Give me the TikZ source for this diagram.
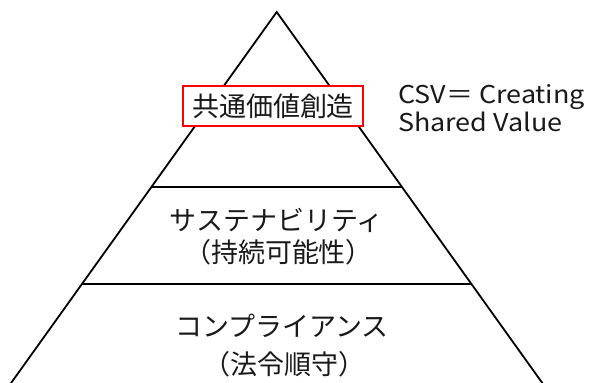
\documentclass[tikz,border=0pt]{standalone}
\usepackage{fontspec}
\newfontfamily\jp{Noto Sans CJK JP}
\newfontfamily\csvfont[FakeStretch=1.1]{Noto Sans CJK JP}
\usetikzlibrary{calc}
\begin{document}
\begin{tikzpicture}[x=1pt,y=1pt,
  edge/.style={line width=1.8pt,black},
  tier/.style={font=\jp\fontsize{27}{27}\selectfont, inner sep=0pt, anchor=center, text=black!90},
  redbox/.style={draw=red, line width=2pt, fill=white, font=\jp\fontsize{27}{27}\selectfont,
    inner sep=0pt, minimum width=180pt, minimum height=40pt, text=black!90},
  csvtext/.style={font=\csvfont\fontsize{24.5}{24.5}\selectfont, inner sep=0pt, anchor=base west, text=black!90}]
\useasboundingbox (0,0) rectangle (590,383);
\clip (0,0) rectangle (590,383);
\coordinate (apex) at (276.7,371);
\coordinate (bl) at (2.5,-12);
\coordinate (br) at (550.9,-12);
\draw[edge, line join=miter] (bl) -- (apex) -- (br);
\coordinate (l1) at ($(apex)!0.457!(bl)$);
\coordinate (r1) at ($(apex)!0.457!(br)$);
\coordinate (l2) at ($(apex)!0.710!(bl)$);
\coordinate (r2) at ($(apex)!0.710!(br)$);
\draw[edge] (l1) -- (r1);
\draw[edge] (l2) -- (r2);
\node[redbox] (top) at (273,277) {共通価値創造};
\node[csvtext] (csv1) at (398,279.7) {CSV＝ Creating};
\node[csvtext] (csv2) at (398,251.3) {Shared Value};
\node[tier] (s1) at (276.5,163) {サステナビリティ};
\node[tier] (s2) at (278.5,130.5) {（持続可能性）};
\node[tier] (c1) at (282,57) {コンプライアンス};
\node[tier] (c2) at (284.5,19) {（法令順守）};
\end{tikzpicture}
\end{document}
